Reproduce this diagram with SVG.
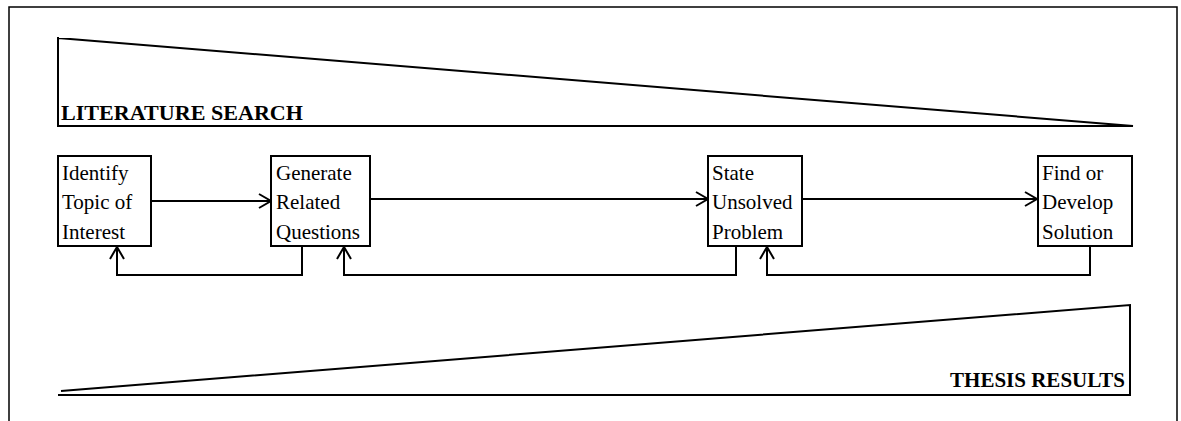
<svg xmlns="http://www.w3.org/2000/svg" width="1181" height="421" viewBox="0 0 1181 421">
<style>
.frame{fill:none;stroke:#000;stroke-width:1.5}
.wedge{fill:none;stroke:#000;stroke-width:2}
.box{fill:#fff;stroke:#000;stroke-width:2}
.conn{fill:none;stroke:#000;stroke-width:2}
.lbl{font-family:"Liberation Serif","Times New Roman",serif;font-size:21px;fill:#000}
.hdr{font-family:"Liberation Serif","Times New Roman",serif;font-size:21px;font-weight:bold;fill:#000}
</style>
<defs>
<marker id="arr" markerUnits="userSpaceOnUse" markerWidth="16" markerHeight="18" viewBox="-14 -9 16 18" refX="0" refY="0" orient="auto">
<path d="M-12,-7 L0,0 L-12,7" fill="none" stroke="#000" stroke-width="2"/>
</marker>
</defs>
<rect width="1181" height="421" fill="#fff"/>
<g id="frame">
<path class="frame" d="M9,421 V7 H1177 V421"/>
</g>
<g id="literature-search">
<path class="wedge" d="M58,37 V126 H1133 L58,38"/>
<text class="hdr" x="61" y="120" textLength="242" lengthAdjust="spacingAndGlyphs">LITERATURE SEARCH</text>
</g>
<g id="thesis-results">
<path class="wedge" d="M58,395 H1130 V305 L61,391"/>
<text class="hdr" x="1125" y="387" text-anchor="end">THESIS RESULTS</text>
</g>
<g id="connectors">
<path class="conn" d="M151,201 H271" marker-end="url(#arr)"/>
<path class="conn" d="M370,199 H708" marker-end="url(#arr)"/>
<path class="conn" d="M802,199 H1037" marker-end="url(#arr)"/>
<path class="conn" d="M302,246 V275 H117 V247" marker-end="url(#arr)"/>
<path class="conn" d="M736,246 V275 H344 V247" marker-end="url(#arr)"/>
<path class="conn" d="M1090,246 V275 H767 V247" marker-end="url(#arr)"/>
</g>
<g id="node-identify">
<rect class="box" x="58" y="156" width="93" height="90"/>
<text class="lbl" x="62" y="180">Identify</text>
<text class="lbl" x="62" y="209">Topic of</text>
<text class="lbl" x="62" y="239">Interest</text>
</g>
<g id="node-generate">
<rect class="box" x="271" y="156" width="99" height="90"/>
<text class="lbl" x="276" y="180">Generate</text>
<text class="lbl" x="276" y="209">Related</text>
<text class="lbl" x="276" y="239">Questions</text>
</g>
<g id="node-state">
<rect class="box" x="708" y="156" width="94" height="90"/>
<text class="lbl" x="712" y="180">State</text>
<text class="lbl" x="712" y="209">Unsolved</text>
<text class="lbl" x="712" y="239">Problem</text>
</g>
<g id="node-find">
<rect class="box" x="1038" y="156" width="94" height="90"/>
<text class="lbl" x="1042" y="180">Find or</text>
<text class="lbl" x="1042" y="209">Develop</text>
<text class="lbl" x="1042" y="239">Solution</text>
</g>
</svg>
